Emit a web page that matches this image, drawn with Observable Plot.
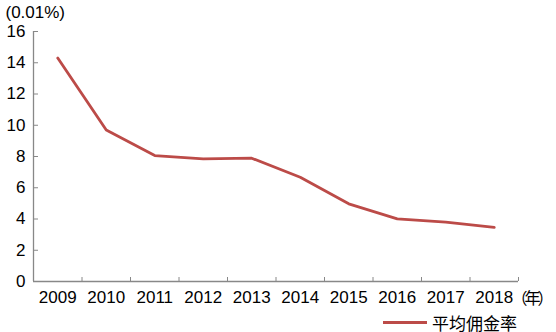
<!DOCTYPE html>
<html><head><meta charset="utf-8">
<script src="https://cdn.jsdelivr.net/npm/d3@7"></script>
<script src="https://cdn.jsdelivr.net/npm/@observablehq/plot@0.6"></script>
<style>
body{margin:0;background:#fff;font-family:"Liberation Sans","Noto Sans CJK SC",sans-serif;}
#legend{position:absolute;left:383px;top:311px;height:22px;font-size:17px;display:flex;align-items:center;color:#000;}
#legend span.sw{display:inline-block;width:44px;height:3px;background:#BC4B48;margin-right:5px;}
</style></head>
<body>
<div id="chart"></div>
<div id="legend"><span class="sw"></span><span>平均佣金率</span></div>
<script>
const years = [2009, 2010, 2011, 2012, 2013, 2014, 2015, 2016, 2017, 2018];
const rates = [14.3, 9.7, 8.06, 7.85, 7.89, 6.67, 4.97, 4.01, 3.8, 3.46];
const yTicks = [0, 2, 4, 6, 8, 10, 12, 14, 16];
const seriesName = "平均佣金率";
const unitX = "（年）";
const unitY = "(0.01%)";
const data = years.map((y, i) => ({year: y, rate: rates[i]}));
const bounds = [...years.map(y => y - 0.5), years[years.length - 1] + 0.5];

const W = 556, H = 306, ML = 33, MR = 38, MT = 31, MB = 25;
const axisColor = "#888";
const font = '"Liberation Sans","Noto Sans CJK SC",sans-serif';
const chart = Plot.plot({
  width: W, height: H,
  marginLeft: ML, marginRight: MR, marginTop: MT, marginBottom: MB,
  style: {fontFamily: font, fontSize: "17px", color: "#000", background: "#fff"},
  x: {type: "linear", domain: [2008.5, 2018.5]},
  y: {type: "linear", domain: [0, 16]},
  marks: [
    Plot.ruleY([0], {stroke: axisColor, strokeWidth: 1.3}),
    Plot.ruleX([2008.5], {stroke: axisColor, strokeWidth: 1.3}),
    Plot.tickX(bounds, {x: d => d, stroke: axisColor, insetTop: (H - MT - MB) - 4}),
    Plot.tickY(yTicks, {y: d => d, stroke: axisColor, insetRight: (W - ML - MR) - 5}),
    Plot.axisY({ticks: yTicks, tickSize: 0, tickPadding: 8, label: null, fill: "#000", fontSize: 17}),
    Plot.axisX({ticks: years, tickSize: 0, tickPadding: 9, tickFormat: d => String(d), label: null, fill: "#000", fontSize: 17}),
    Plot.text([unitX], {frameAnchor: "bottom-right", dx: -7, dy: 17, textAnchor: "start", lineAnchor: "middle", fill: "#000", fontSize: 16}),
    Plot.text([unitY], {frameAnchor: "top-left", dx: -28, dy: -19, textAnchor: "start", lineAnchor: "middle", fill: "#000", fontSize: 17}),
    Plot.line(data, {x: "year", y: "rate", stroke: "#BC4B48", strokeWidth: 2.8})
  ]
});
chart.querySelectorAll("text").forEach(t => { if (t.textContent === unitX) t.style.letterSpacing = "-3px"; });
document.getElementById("chart").appendChild(chart);
</script>
</body></html>
